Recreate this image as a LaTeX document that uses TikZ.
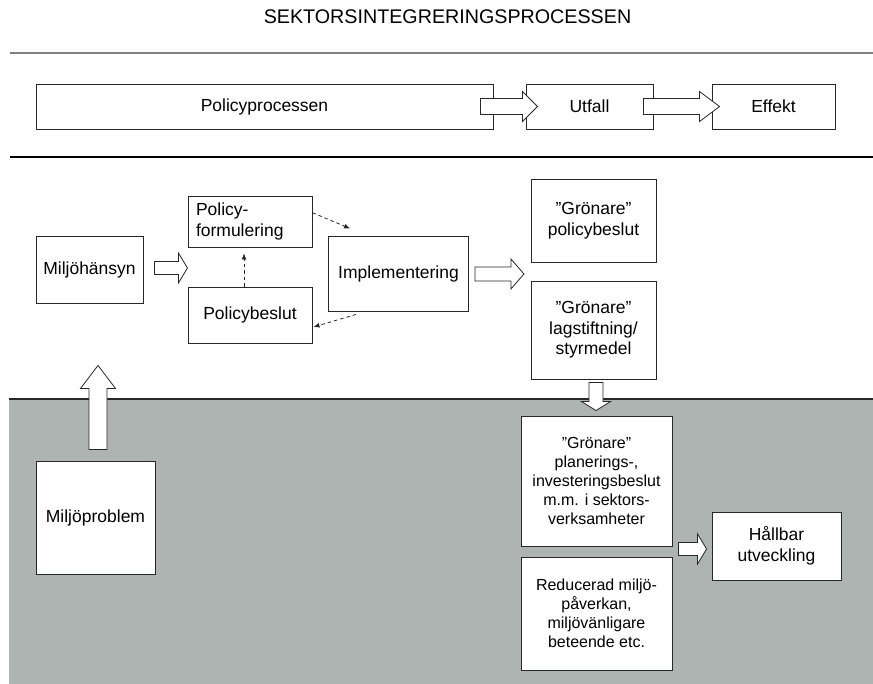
\documentclass[tikz,border=0pt]{standalone}
\usepackage{fontspec}
\setmainfont{Liberation Sans}
\usetikzlibrary{calc,arrows.meta}
\definecolor{greybg}{RGB}{173,180,178}
\definecolor{edge}{RGB}{40,40,40}
\definecolor{topline}{RGB}{128,128,128}

\tikzset{
 box/.style={draw=edge, line width=0.9pt, fill=white, inner sep=0pt, align=center, font=\fontsize{17.5}{20.5}\selectfont},
 smallbox/.style={box, font=\fontsize{16}{19}\selectfont},
 barrow/.style={draw=edge, line width=0.8pt, fill=white, line join=miter},
 dasharrow/.style={draw=edge, line width=0.8pt, dash pattern=on 3.5pt off 3pt, -{Latex[length=6pt,width=5pt]}},
}

% right-pointing block arrow: tail point, tip point, shaft half, head half, head length
\newcommand\rblock[5]{\draw[barrow] let \p1=(#1), \p2=(#2) in (\x1,\y1+#3pt) -- (\x2-#5pt,\y1+#3pt) -- (\x2-#5pt,\y1+#4pt) -- (\x2,\y1) -- (\x2-#5pt,\y1-#4pt) -- (\x2-#5pt,\y1-#3pt) -- (\x1,\y1-#3pt) -- cycle;}
% upward block arrow
\newcommand\ublock[5]{\draw[barrow] let \p1=(#1), \p2=(#2) in (\x1-#3pt,\y1) -- (\x1-#3pt,\y2-#5pt) -- (\x1-#4pt,\y2-#5pt) -- (\x1,\y2) -- (\x1+#4pt,\y2-#5pt) -- (\x1+#3pt,\y2-#5pt) -- (\x1+#3pt,\y1) -- cycle;}
% downward block arrow
\newcommand\dblock[5]{\draw[barrow] let \p1=(#1), \p2=(#2) in (\x1-#3pt,\y1) -- (\x1-#3pt,\y2+#5pt) -- (\x1-#4pt,\y2+#5pt) -- (\x1,\y2) -- (\x1+#4pt,\y2+#5pt) -- (\x1+#3pt,\y2+#5pt) -- (\x1+#3pt,\y1) -- cycle;}

\begin{document}
\begin{tikzpicture}[x=1pt,y=1pt]
\useasboundingbox (0,0) rectangle (873,-684);

% background band
\fill[greybg] (9,-399) rectangle (873,-684);
\draw[edge, line width=1.5pt] (9,-399) -- (873,-399);

% separating lines
\draw[topline, line width=2pt] (10,-53) -- (873,-53);
\draw[black, line width=2pt] (10,-157) -- (873,-157);

% title
\node[anchor=base, inner sep=0pt, font=\fontsize{19.7}{23}\selectfont] (title) at (447.5,-24) {SEKTORSINTEGRERINGSPROCESSEN};

% top row
\node[box, minimum width=457, minimum height=45] (pp) at (264.5,-106.5) {Policyprocessen};
\node[box, minimum width=127, minimum height=45] (utfall) at (589.5,-106.5) {Utfall};
\node[box, minimum width=123, minimum height=45] (effekt) at (773.5,-106.5) {Effekt};

\rblock{$(pp.east)+(-13,0)$}{$(utfall.west)+(12,0)$}{8}{15}{15}
\rblock{$(utfall.east)+(-10,0)$}{$(effekt.west)+(8,0)$}{8}{15}{20}

% middle section
\node[box, minimum width=107, minimum height=67] (mh) at (89.5,-269.5) {Miljöhänsyn};
\node[box, minimum width=124, minimum height=51, text width=108, inner xsep=8pt, align=left] (form) at (250,-221.5) {Policy-\\formulering};
\node[box, minimum width=124, minimum height=56] (pbes) at (250,-315) {Policybeslut};
\node[box, minimum width=140, minimum height=75] (impl) at (398.5,-273.5) {Implementering};
\node[box, minimum width=125, minimum height=83] (gp) at (593.5,-220.5) {”Grönare”\\policybeslut};
\node[box, minimum width=125, minimum height=98] (gl) at (593.5,-330) {”Grönare”\\lagstiftning/\\styrmedel};

\rblock{$(mh.east)+(11,1.5)$}{$(mh.east)+(44,1.5)$}{6.5}{15}{9}
\rblock{$(impl.east)+(6,-0.5)$}{$(impl.east)+(55,-0.5)$}{7}{15}{13}

\draw[dasharrow] ($(form.north east)!0.33!(form.south east)$) -- ($(impl.north west)+(22,7)$);
\draw[dasharrow] ($(impl.south west)+(28,-3)$) -- ($(pbes.north east)!0.71!(pbes.south east)+(1,0)$);
\draw[dasharrow] ($(pbes.north)+(-6,0)$) -- ($(form.south)+(-6,-6)$);

% bottom section
\node[box, minimum width=119, minimum height=113] (mp) at (95.5,-517.5) {Miljöproblem};
\node[smallbox, minimum width=151, minimum height=130] (gplan) at (596.5,-481) {”Grönare”\\planerings-,\\investeringsbeslut\\m.m. i sektors-\\verksamheter};
\node[smallbox, minimum width=151, minimum height=113] (red) at (596.5,-613.5) {Reducerad miljö-\\påverkan,\\miljövänligare\\beteende etc.};
\node[box, minimum width=129, minimum height=68] (hb) at (776.5,-546) {Hållbar\\utveckling};

\ublock{$(mp.north)+(2.5,11)$}{$(mh.south)+(8.5,-62)$}{9}{17.5}{23}
\dblock{$(gl.south)+(2.5,-3)$}{$(gplan.north)+(-0.5,5)$}{7}{14.5}{9}
\rblock{$(gplan.east |- hb.center)+(6,-3)$}{$(hb.west)+(-5,-3)$}{6.5}{15}{9}

\end{tikzpicture}
\end{document}
